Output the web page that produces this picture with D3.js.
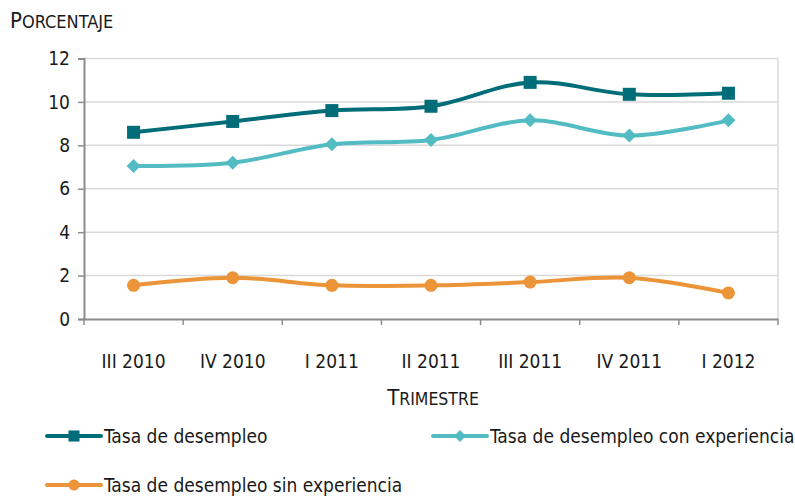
<!DOCTYPE html>
<html><head><meta charset="utf-8">
<script src="https://cdn.jsdelivr.net/npm/d3@7"></script>
<style>
body{margin:0;background:#fff;}
text{font-family:"DejaVu Sans Condensed","Liberation Sans Narrow",sans-serif;fill:#1a1a1a;}
</style></head>
<body><svg id="c" width="795" height="498"></svg>
<script>
const categories = ["III 2010","IV 2010","I 2011","II 2011","III 2011","IV 2011","I 2012"];
const tasaDesempleo = [8.6, 9.1, 9.6, 9.8, 10.9, 10.35, 10.4];
const tasaConExperiencia = [7.05, 7.2, 8.05, 8.25, 9.15, 8.45, 9.15];
const tasaSinExperiencia = [1.55, 1.9, 1.55, 1.55, 1.7, 1.9, 1.2];
const yTicks = [0, 2, 4, 6, 8, 10, 12];
const seriesNames = ["Tasa de desempleo", "Tasa de desempleo con experiencia", "Tasa de desempleo sin experiencia"];
const seriesColors = ["#006d78", "#52bcc2", "#ec9438"];
const seriesSymbols = ["square", "diamond", "circle"];

const svg = d3.select("#c");
const m = {l:84, r:778, t:58.5, b:319};
const x = d3.scaleBand().domain(categories).range([m.l, m.r]);
const y = d3.scaleLinear().domain([0, 12]).range([m.b, m.t]);
const FONT = '"DejaVu Sans Condensed","Liberation Sans Narrow",sans-serif';

// gridlines
svg.append("g").selectAll("line").data(yTicks.filter(d => d > 0)).join("line")
  .attr("x1", m.l).attr("x2", m.r).attr("y1", d => y(d)).attr("y2", d => y(d))
  .attr("stroke", "#d9d9d9").attr("stroke-width", 1.5);
svg.append("line").attr("x1", m.r).attr("x2", m.r).attr("y1", m.t).attr("y2", m.b)
  .attr("stroke", "#d9d9d9").attr("stroke-width", 1.5);

// y axis
const yAxis = svg.append("g").attr("transform", `translate(${m.l},0)`)
  .call(d3.axisLeft(y).tickValues(yTicks).tickSize(6).tickPadding(8).tickFormat(d3.format("d")));
yAxis.select(".domain").attr("stroke", "#8c8c8c").attr("stroke-width", 2);
yAxis.selectAll(".tick line").attr("stroke", "#8c8c8c").attr("stroke-width", 1.5);
yAxis.selectAll("text").attr("font-size", 19).attr("fill", "#1a1a1a").style("font-family", FONT);

// x axis
const xAxis = svg.append("g").attr("transform", `translate(0,${m.b})`)
  .call(d3.axisBottom(x).tickSize(0).tickPadding(36));
xAxis.select(".domain").attr("stroke", "#8c8c8c").attr("stroke-width", 2);
xAxis.selectAll("text").attr("font-size", 19).attr("fill", "#1a1a1a").style("font-family", FONT);
const bounds = categories.map(c => x(c)).concat([m.r]);
xAxis.append("g").selectAll("line").data(bounds).join("line")
  .attr("x1", d => d).attr("x2", d => d).attr("y1", 0).attr("y2", 6)
  .attr("stroke", "#8c8c8c").attr("stroke-width", 1.5);

// small-caps titles
function smallCaps(txt, xx, yy, big, small, anchor) {
  const t = svg.append("text").attr("x", xx).attr("y", yy).attr("text-anchor", anchor || "start");
  t.append("tspan").attr("font-size", big).text(txt[0].toUpperCase());
  t.append("tspan").attr("font-size", small).text(txt.slice(1).toUpperCase());
  return t;
}
smallCaps("Porcentaje", 10, 28, 22, 18);
smallCaps("Trimestre", (m.l + m.r) / 2 + 2, 405, 22, 17.5, "middle");

const allSeries = [tasaDesempleo, tasaConExperiencia, tasaSinExperiencia];
const line = d3.line().x((d, i) => x(categories[i]) + x.bandwidth() / 2).y(d => y(d))
  .curve(d3.curveCatmullRom.alpha(0));

function drawSymbol(g, type, cx, cy, color, scale) {
  const s = scale || 1;
  if (type === "square") {
    g.append("rect").attr("x", cx - 6.5 * s).attr("y", cy - 6.5 * s).attr("width", 13 * s).attr("height", 13 * s)
      .attr("fill", color);
  } else if (type === "diamond") {
    const r = 7 * s;
    g.append("path").attr("d", `M${cx},${cy - r}L${cx + r},${cy}L${cx},${cy + r}L${cx - r},${cy}Z`).attr("fill", color);
  } else {
    g.append("circle").attr("cx", cx).attr("cy", cy).attr("r", 6.5 * s).attr("fill", color);
  }
}

allSeries.forEach((vals, si) => {
  const g = svg.append("g");
  g.append("path").attr("d", line(vals)).attr("fill", "none")
    .attr("stroke", seriesColors[si]).attr("stroke-width", 4).attr("stroke-linejoin", "round");
  vals.forEach((v, i) => drawSymbol(g, seriesSymbols[si], x(categories[i]) + x.bandwidth() / 2, y(v), seriesColors[si]));
});

// legend
const legendPos = [[47, 436], [433, 436], [47, 485]];
seriesNames.forEach((n, si) => {
  const [lx, ly] = legendPos[si];
  const g = svg.append("g");
  g.append("line").attr("x1", lx).attr("x2", lx + 54).attr("y1", ly).attr("y2", ly)
    .attr("stroke", seriesColors[si]).attr("stroke-width", 4).attr("stroke-linecap", "round");
  drawSymbol(g, seriesSymbols[si], lx + 27, ly, seriesColors[si], 0.85);
  g.append("text").attr("x", lx + 57).attr("y", ly + 7).attr("font-size", 19).text(n);
});
</script></body></html>
